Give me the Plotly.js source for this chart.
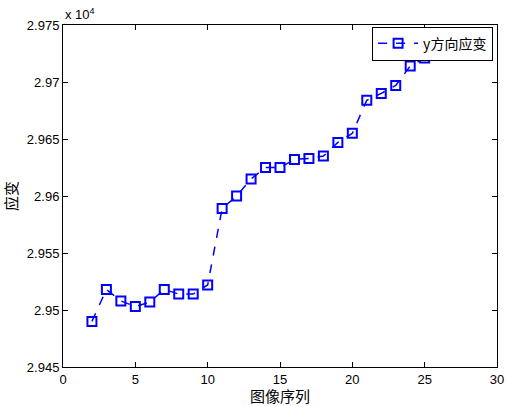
<!DOCTYPE html>
<html>
<head>
<meta charset="utf-8">
<script src="https://cdn.plot.ly/plotly-3.0.1.min.js"></script>
<style>html,body{margin:0;padding:0;background:#fff;}#chart{width:507px;height:406px;}</style>
</head>
<body>
<div id="chart"></div>
<script>
// image index
var imageIndex = [2,3,4,5,6,7,8,9,10,11,12,13,14,15,16,17,18,19,20,21,22,23,24,25,26];
// y-direction strain (x 10^4)
var yStrain = [2.9490,2.9518,2.9508,2.9503,2.9507,2.9518,2.9514,2.9514,2.9522,2.9589,2.9600,2.9615,2.9625,2.9625,2.9632,2.9633,2.9635,2.9647,2.9655,2.9684,2.9690,2.9697,2.9714,2.9721,2.9724];
var seriesName = 'y方向应变';
var xTitle = '图像序列';
var yTitle = '应变';
var xTicks = [0,5,10,15,20,25,30];
var yTicks = [2.945,2.95,2.955,2.96,2.965,2.97,2.975];

var cjk = '"Noto Sans CJK SC", sans-serif';
var latin = '"Liberation Sans", Arial, sans-serif';

var trace = {
  x: imageIndex, y: yStrain, name: seriesName, type: 'scatter', mode: 'lines+markers',
  line: {color: '#0000ff', width: 1.5, dash: 'dash'},
  marker: {symbol: 'square-open', size: 9, color: '#0000ff', line: {width: 2, color: '#0000ff'}}
};

var layout = {
  width: 507, height: 406,
  margin: {l: 63, r: 10, t: 25, b: 39},
  paper_bgcolor: '#ffffff', plot_bgcolor: '#ffffff',
  font: {family: latin, size: 13, color: '#000'},
  showlegend: true,
  legend: {x: 0.991, y: 0.995, xanchor: 'right', yanchor: 'top', bgcolor: '#ffffff', bordercolor: '#000', borderwidth: 1,
           font: {family: cjk, size: 14, color: '#000'}, itemwidth: 40, tracegroupgap: 0},
  xaxis: {range: [0, 30], tickvals: xTicks, ticktext: xTicks.map(String), ticks: 'inside', ticklen: 5, tickcolor: '#000',
          showline: true, linecolor: '#000', linewidth: 1, mirror: 'ticks', showgrid: false, zeroline: false,
          tickfont: {family: latin, size: 13}, 
          title: {text: xTitle, font: {family: cjk, size: 15}, standoff: 1}},
  yaxis: {range: [2.945, 2.975], tickvals: yTicks, ticktext: yTicks.map(function(v){return String(v);}), ticks: 'inside', ticklen: 5, tickcolor: '#000',
          showline: true, linecolor: '#000', linewidth: 1, mirror: 'ticks', showgrid: false, zeroline: false,
          tickfont: {family: latin, size: 13},
          title: {text: yTitle, font: {family: cjk, size: 15}, standoff: 8}},
  annotations: [{xref: 'paper', yref: 'paper', x: 0, y: 1, xanchor: 'left', yanchor: 'bottom', yshift: 1,
                 text: 'x 10<sup>4</sup>', showarrow: false, font: {family: latin, size: 13}}]
};

Plotly.newPlot('chart', [trace], layout, {displayModeBar: false, staticPlot: true});
</script>
</body>
</html>
